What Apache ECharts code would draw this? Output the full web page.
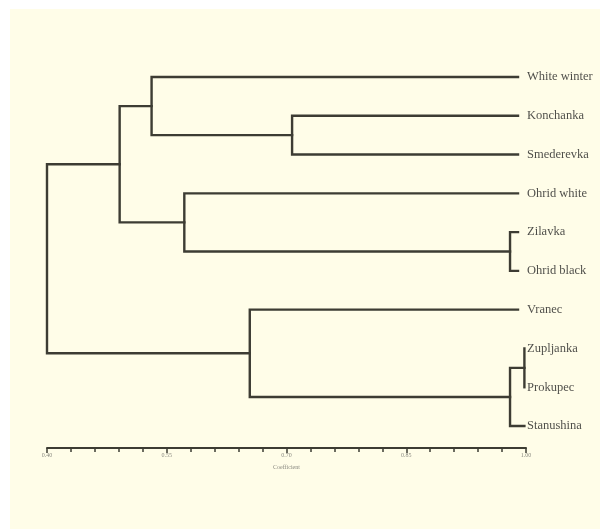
<!DOCTYPE html>
<html>
<head>
<meta charset="utf-8">
<script src="https://cdn.jsdelivr.net/npm/echarts@6/dist/echarts.min.js"></script>
<style>
html,body{margin:0;padding:0;background:#ffffff;width:600px;height:529px;overflow:hidden;}
#chart{position:absolute;left:10px;top:9px;width:590px;height:520px;}
</style>
</head>
<body>
<div id="chart"></div>
<script>
// Leaves (top to bottom)
var leaves = ['White winter','Konchanka','Smederevka','Ohrid white','Zilavka','Ohrid black','Vranec','Zupljanka','Prokupec','Stanushina'];
// Coefficient where each leaf's branch ends
var leafCoef = [0.99, 0.99, 0.99, 0.99, 0.99, 0.99, 0.99, 0.998, 0.998, 0.998];
// Merges: node ids 0..9 are leaves, merge k creates node 10+k
var mergeA = [1, 0, 4, 3, 11, 7, 15, 6, 14];
var mergeB = [2, 10, 5, 12, 13, 8, 9, 16, 17];
var mergeCoef = [0.707, 0.531, 0.980, 0.572, 0.491, 0.998, 0.980, 0.654, 0.400];
// Axis
var axisMin = 0.40, axisMax = 1.00, axisStep = 0.15;
var tickLabels = ['0.40','0.55','0.70','0.85','1.00'];

var lineColor = '#3d3c33';
var nodeX = [], nodeY = [];
for (var i = 0; i < leaves.length; i++) { nodeX.push(leafCoef[i] - axisMin); nodeY.push(i); }
var series = [];
for (var k = 0; k < mergeA.length; k++) {
  var a = mergeA[k], b = mergeB[k], xj = mergeCoef[k] - axisMin;
  series.push({
    type: 'line', silent: true, clip: false, showSymbol: false, symbol: 'none',
    lineStyle: { color: lineColor, width: 2.4, cap: 'square', join: 'miter' },
    data: [[nodeX[a], nodeY[a]], [xj, nodeY[a]], [xj, nodeY[b]], [nodeX[b], nodeY[b]]]
  });
  nodeX.push(xj);
  nodeY.push((nodeY[a] + nodeY[b]) / 2);
}
series.push({
  type: 'scatter', silent: true, symbolSize: 0, clip: false,
  data: leaves.map(function (n, i) { return { value: [0.99 - axisMin, i], name: n }; }),
  label: {
    show: true, position: 'right', distance: 9, formatter: '{b}',
    fontFamily: 'Liberation Serif', fontSize: 12.5, color: '#1e1e1e'
  }
});

var chart = echarts.init(document.getElementById('chart'));
chart.setOption({
  backgroundColor: '#fffde8',
  animation: false,
  grid: { left: 37, right: 74, top: 48.6, bottom: 81, containLabel: false },
  xAxis: {
    type: 'value', position: 'bottom', min: 0, max: axisMax - axisMin, interval: axisStep,
    name: 'Coefficient', nameLocation: 'middle', nameGap: 16,
    nameTextStyle: { fontFamily: 'Liberation Serif', fontSize: 6, color: '#8a8a80' },
    axisLine: { show: true, onZero: false, lineStyle: { color: lineColor, width: 2 } },
    axisTick: { show: true, length: 5, lineStyle: { color: lineColor, width: 1.5 } },
    minorTick: { show: true, splitNumber: 5, length: 4, lineStyle: { color: lineColor, width: 1.5 } },
    splitLine: { show: false },
    axisLabel: {
      fontFamily: 'Liberation Serif', fontSize: 6, color: '#8a8a80', margin: 4,
      formatter: function (v) { return tickLabels[Math.round(v / axisStep)]; }
    }
  },
  yAxis: { type: 'value', inverse: true, min: -0.5, max: 9.567, show: false },
  series: series
});
</script>
</body>
</html>
